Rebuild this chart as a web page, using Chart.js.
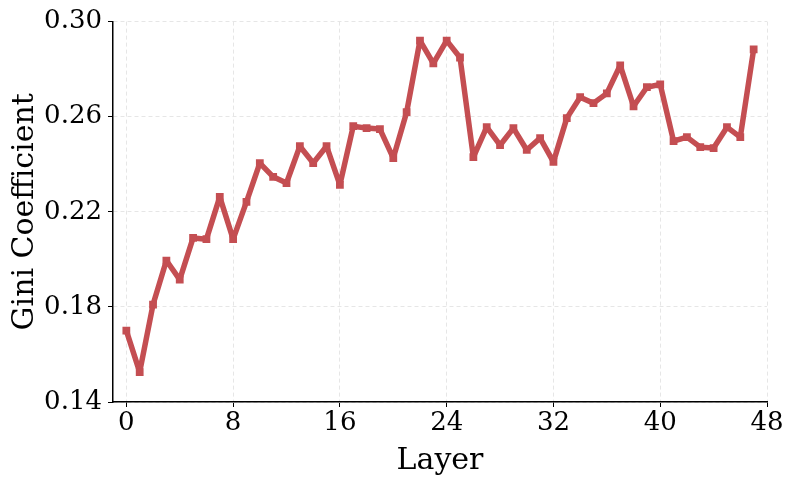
<!DOCTYPE html>
<html>
<head>
<meta charset="utf-8">
<script src="https://cdn.jsdelivr.net/npm/chart.js@4"></script>
<style>
  html, body { margin: 0; padding: 0; background: #fff; }
  #wrap { width: 793px; height: 483px; }
</style>
</head>
<body>
<div id="wrap"><canvas id="gini" width="793" height="483"></canvas></div>
<script>
// Gini coefficient per layer
const layers = [];
for (let i = 0; i < 48; i++) layers.push(i);

const gini = [
  0.170, 0.1526, 0.181, 0.1995, 0.1915, 0.209, 0.2085, 0.2263, 0.2085, 0.2242,
  0.2405, 0.2347, 0.2321, 0.2476, 0.2405, 0.2476, 0.2313, 0.256, 0.2552, 0.2548,
  0.2426, 0.2619, 0.292, 0.2824, 0.292, 0.2849, 0.243, 0.2556, 0.248, 0.2552,
  0.246, 0.251, 0.241, 0.2594, 0.2682, 0.2657, 0.2698, 0.2816, 0.2644, 0.2724,
  0.2736, 0.2497, 0.2514, 0.2472, 0.2468, 0.2556, 0.2514, 0.2883
];

const xTicks = [0, 8, 16, 24, 32, 40, 48];
const yTicks = [0.14, 0.18, 0.22, 0.26, 0.30];

const lineColor = '#c44e52';
const font = 'DejaVu Serif';

const ctx = document.getElementById('gini').getContext('2d');
const giniChart = new Chart(ctx, {
  type: 'line',
  data: {
    datasets: [{
      label: 'Gini Coefficient',
      data: layers.map((l, i) => ({x: l, y: gini[i]})),
      borderColor: lineColor,
      backgroundColor: lineColor,
      borderWidth: 5.5,
      borderJoinStyle: 'round',
      borderCapStyle: 'round',
      pointStyle: 'rect',
      pointRadius: 5.5,
      pointBorderWidth: 0,
      tension: 0
    }]
  },
  options: {
    responsive: false,
    animation: false,
    layout: { padding: { left: 0, top: 20, right: 26, bottom: 0 } },
    plugins: { legend: { display: false }, tooltip: { enabled: false } },
    scales: {
      x: {
        type: 'linear',
        min: -1,
        max: 48,
        afterBuildTicks: (s) => { s.ticks = xTicks.map(v => ({value: v})); },
        afterFit: (s) => { s.height = 81; },
        ticks: { color: '#000', font: { family: font, size: 26 }, padding: 1, maxRotation: 0 },
        grid: { color: '#e6e6e6', tickColor: '#000', tickLength: 5, lineWidth: 1 },
        border: { color: '#000', width: 1.5, dash: [4, 3] },
        title: { display: true, text: 'Layer', color: '#000', font: { family: font, size: 30 }, padding: { top: -4 } }
      },
      y: {
        min: 0.14,
        max: 0.30,
        afterBuildTicks: (s) => { s.ticks = yTicks.map(v => ({value: v})); },
        afterFit: (s) => { s.width = 113; },
        ticks: { color: '#000', font: { family: font, size: 26 }, padding: 6, callback: (v) => v.toFixed(2) },
        grid: { color: '#e6e6e6', tickColor: '#000', tickLength: 5, lineWidth: 1 },
        border: { color: '#000', width: 1.5, dash: [4, 3] },
        title: { display: true, text: 'Gini Coefficient', color: '#000', font: { family: font, size: 30 }, padding: { top: 7, bottom: 4 } }
      }
    }
  }
});
</script>
</body>
</html>
